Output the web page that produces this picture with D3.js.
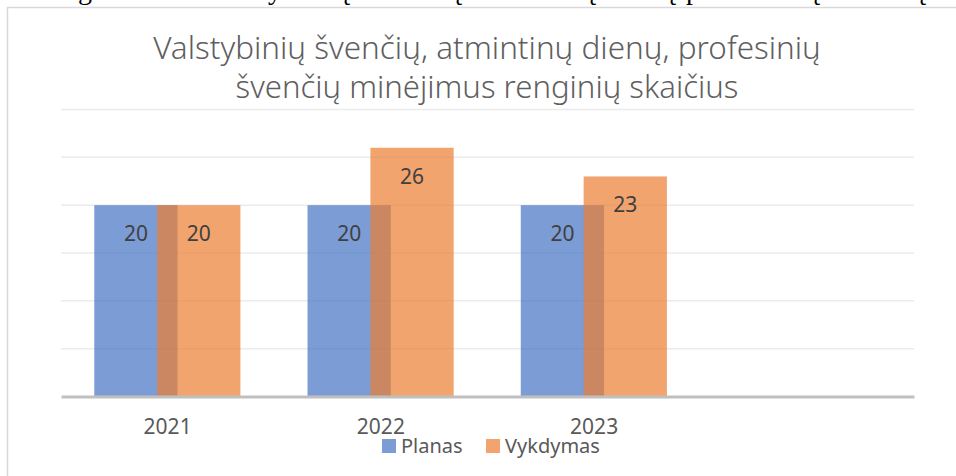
<!DOCTYPE html>
<html><head><meta charset="utf-8">
<script src="https://cdn.jsdelivr.net/npm/d3@7/dist/d3.min.js"></script>
<style>body{margin:0;background:#fff;overflow:hidden} svg{display:block}</style>
</head><body>
<svg id="c" width="956" height="476"></svg>
<script>
// ---- data ----
const categories = ["2021", "2022", "2023", ""];
const planas = [20, 20, 20, null];
const vykdymas = [20, 26, 23, null];
const seriesNames = ["Planas", "Vykdymas"];
const yTicks = [0, 5, 10, 15, 20, 25, 30];
const titleLines = ["Valstybinių švenčių, atmintinų dienų, profesinių", "švenčių minėjimus renginių skaičius"];
// cropped heading line above the chart (only descenders visible)
const headingChars = ["g", "y", "ų", "ų", "ų", "ų", "p", "ų", "ų"];
const headingCharX = [78, 268, 336, 448, 582, 662, 686, 806, 912];

// ---- layout ----
const W = 956, H = 476;
const plot = {left: 61, right: 914, top: 109.5, bottom: 396.5};
const colors = {Planas: "rgb(68,114,196)", Vykdymas: "rgb(237,125,49)"};
const FONT = "'Noto Sans', 'Open Sans', sans-serif";

const svg = d3.select("#c");

// heading fragments (behind the chart frame)
svg.append("g").selectAll("text").data(headingChars).join("text")
  .attr("x", (d, i) => headingCharX[i]).attr("y", -1)
  .attr("font-family", "'Liberation Serif', serif").attr("font-size", 28)
  .attr("fill", "#000").text(d => d);

// chart frame
svg.append("rect").attr("x", 7.5).attr("y", 7.5).attr("width", 980).attr("height", 500)
  .attr("fill", "#fff").attr("stroke", "#d9d9d9").attr("stroke-width", 1.5);

// title
const title = svg.append("g").attr("font-family", FONT).attr("font-weight", 300)
  .attr("fill", "#5f5f5f").attr("text-anchor", "middle");
const titleY = [59, 98];
const titleW = [668, 503];
titleLines.forEach((t, i) => {
  const el = title.append("text").attr("x", 487).attr("y", titleY[i]).attr("font-size", 28).text(t);
  const len = el.node().getComputedTextLength();
  el.attr("font-size", 28 * titleW[i] / len);
});

const x = d3.scaleBand().domain(categories).range([plot.left, plot.right]).padding(0);
const y = d3.scaleLinear().domain([0, 30]).range([plot.bottom, plot.top]);

// gridlines
svg.append("g").selectAll("line").data(yTicks.filter(t => t > 0)).join("line")
  .attr("x1", plot.left).attr("x2", plot.right)
  .attr("y1", d => y(d)).attr("y2", d => y(d))
  .attr("stroke", "#ebebeb").attr("stroke-width", 1.5);

const bw = x.bandwidth();
const barW = bw * 0.3905;
const off0 = bw * 0.156;
const off1 = off0 + barW * 0.755;
const series = [
  {name: "Planas", values: planas, off: off0},
  {name: "Vykdymas", values: vykdymas, off: off1}
];

series.forEach(s => {
  const pts = categories.map((c, i) => ({c, v: s.values[i]})).filter(d => d.v != null);
  svg.append("g").selectAll("rect").data(pts).join("rect")
    .attr("x", d => x(d.c) + s.off).attr("width", barW)
    .attr("y", d => y(d.v)).attr("height", d => y(0) - y(d.v))
    .attr("fill", colors[s.name]).attr("fill-opacity", 0.7);
});

// value labels
series.forEach(s => {
  const pts = categories.map((c, i) => ({c, v: s.values[i]})).filter(d => d.v != null);
  svg.append("g").selectAll("text").data(pts).join("text")
    .attr("x", d => x(d.c) + s.off + barW / 2).attr("y", d => y(d.v) + 36)
    .attr("text-anchor", "middle").attr("font-family", FONT).attr("font-size", 21)
    .attr("fill", "#404040").text(d => d.v);
});

// x axis
const xAxis = svg.append("g").attr("transform", `translate(0,${plot.bottom})`)
  .call(d3.axisBottom(x).tickSize(0).tickPadding(23));
xAxis.select(".domain").attr("stroke", "#bfbfbf").attr("stroke-width", 3);
xAxis.selectAll("text").attr("font-family", FONT).attr("font-size", 21).attr("fill", "#595959");

// legend
const legendX = [382, 486];
const lg = svg.append("g").selectAll("g").data(seriesNames).join("g")
  .attr("transform", (d, i) => `translate(${legendX[i]},439)`);
lg.append("rect").attr("width", 14).attr("height", 14).attr("fill", d => colors[d]).attr("fill-opacity", 0.7);
lg.append("text").attr("x", 19).attr("y", 14).attr("font-family", FONT).attr("font-size", 20)
  .attr("fill", "#595959").text(d => d);
</script>
</body></html>
